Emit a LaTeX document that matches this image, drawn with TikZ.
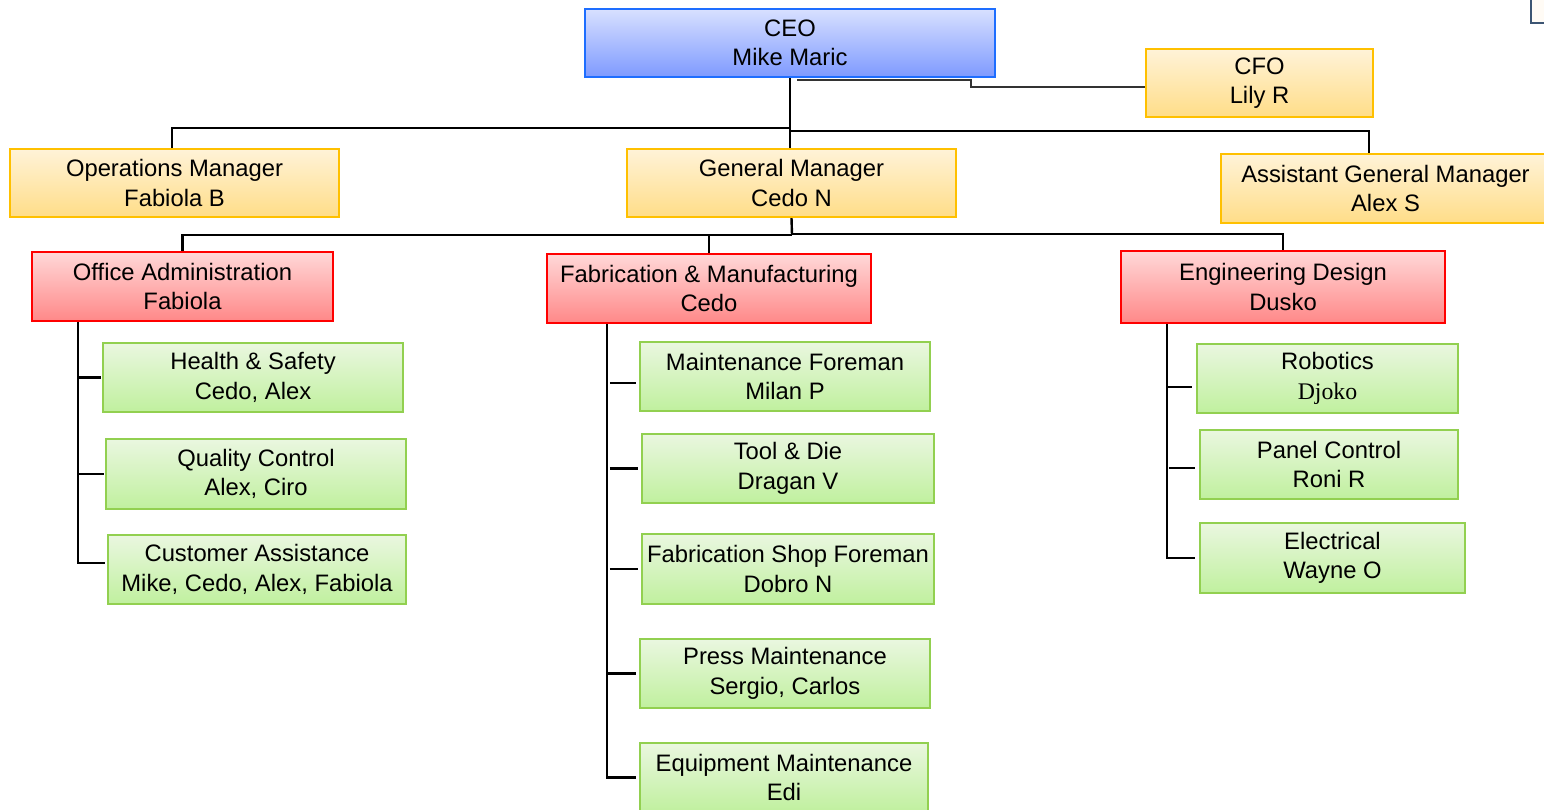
\documentclass[tikz,border=0pt]{standalone}
\usepackage{fontspec}
\setmainfont{Liberation Sans}
\newfontfamily\djfont{Liberation Serif}
\definecolor{ceoLine}{RGB}{30,110,255}
\definecolor{ceoTop}{RGB}{216,224,255}
\definecolor{ceoBot}{RGB}{126,154,255}
\definecolor{goldLine}{RGB}{255,192,0}
\definecolor{goldTop}{RGB}{255,243,216}
\definecolor{goldBot}{RGB}{255,221,136}
\definecolor{redLine}{RGB}{255,0,0}
\definecolor{redTop}{RGB}{255,216,216}
\definecolor{redBot}{RGB}{255,136,136}
\definecolor{grnLine}{RGB}{146,208,80}
\definecolor{grnTop}{RGB}{234,247,224}
\definecolor{grnBot}{RGB}{192,240,158}
\definecolor{cornerLine}{RGB}{60,85,115}
\definecolor{cornerFill}{RGB}{255,251,245}
\tikzset{
  box/.style={draw, line width=2.4pt, align=center, inner sep=1pt,
    font=\fontsize{23.8}{29.5}\selectfont, text=black},
  ceobox/.style={box, draw=ceoLine, top color=ceoTop, bottom color=ceoBot},
  goldbox/.style={box, draw=goldLine, top color=goldTop, bottom color=goldBot},
  redbox/.style={box, draw=redLine, top color=redTop, bottom color=redBot},
  grnbox/.style={box, draw=grnLine, top color=grnTop, bottom color=grnBot},
  conn/.style={line width=2.4pt, black},
  thinconn/.style={line width=1.4pt, black!80},
}
\begin{document}
\begin{tikzpicture}[x=1pt,y=-1pt]
\useasboundingbox (0,0) rectangle (1544,810);

% corner box (cut off at top right)
\draw[cornerLine, fill=cornerFill, line width=1.5pt] (1531,-10) rectangle (1570,23);

% level 1
\node[ceobox, minimum width=410pt, minimum height=68pt] (CEO) at (790,43) {CEO\\Mike Maric};
\node[goldbox, minimum width=227pt, minimum height=68pt] (CFO) at (1259.5,83) {CFO\\Lily R};

% level 2
\node[goldbox, minimum width=329pt, minimum height=68pt] (OPM) at (174.5,183) {Operations Manager\\Fabiola B};
\node[goldbox, minimum width=329pt, minimum height=68pt] (GM) at (791.5,183) {General Manager\\Cedo N};
\node[goldbox, minimum width=329pt, minimum height=69pt] (AGM) at (1385.5,188.5) {Assistant General Manager\\Alex S};

% level 3
\node[redbox, minimum width=301pt, minimum height=69pt] (OA) at (182.5,286.5) {Office Administration\\Fabiola};
\node[redbox, minimum width=324pt, minimum height=69pt] (FM) at (709,288.5) {Fabrication \& Manufacturing\\Cedo};
\node[redbox, minimum width=324pt, minimum height=72pt] (ED) at (1283,287) {Engineering Design\\Dusko};

% level 4 left
\node[grnbox, minimum width=300pt, minimum height=69pt] (HS) at (253,377.5) {Health \& Safety\\Cedo, Alex};
\node[grnbox, minimum width=300pt, minimum height=70pt] (QC) at (256,474) {Quality Control\\Alex, Ciro};
\node[grnbox, minimum width=298pt, minimum height=69pt] (CA) at (257,569.5) {Customer Assistance\\Mike, Cedo, Alex, Fabiola};

% level 4 middle
\node[grnbox, minimum width=290pt, minimum height=69pt] (MF) at (785,376.5) {Maintenance Foreman\\Milan P};
\node[grnbox, minimum width=292pt, minimum height=69pt] (TD) at (788,468.5) {Tool \& Die\\Dragan V};
\node[grnbox, minimum width=292pt, minimum height=70pt] (FSF) at (788,569) {Fabrication Shop Foreman\\Dobro N};
\node[grnbox, minimum width=290pt, minimum height=69pt] (PM) at (785,673.5) {Press Maintenance\\Sergio, Carlos};
\node[grnbox, minimum width=288pt, minimum height=69pt] (EM) at (784,777.5) {Equipment Maintenance\\Edi};

% level 4 right
\node[grnbox, minimum width=261pt, minimum height=69pt] (ROB) at (1327.5,378.5) {Robotics\\{\djfont Djoko}};
\node[grnbox, minimum width=258pt, minimum height=69pt] (PC) at (1329,464.5) {Panel Control\\Roni R};
\node[grnbox, minimum width=265pt, minimum height=70pt] (EL) at (1332.5,558) {Electrical\\Wayne O};

% CEO -> CFO
\coordinate (cfB) at (971,87);
\draw[thinconn] ([xshift=7pt,yshift=-2pt]CEO.south) -| (cfB) -- (cfB -| CFO.west);

% CEO -> level 2
\coordinate (busA) at (790,128);
\coordinate (busB) at (791,131);
\draw[conn] (CEO.south) -- (CEO.south |- GM.north);
\draw[conn] ([xshift=-2.5pt]OPM.north) |- (busA);
\draw[conn] (busB) -| ([xshift=-16.5pt]AGM.north);

% GM -> level 3
\coordinate (gbA) at (792,235);
\coordinate (gbB) at (792,234);
\draw[conn] (GM.south) -- (gbA);
\draw[conn] (OA.north) |- (gbA);
\draw[conn] (gbB) -| (ED.north);
\draw[conn] (FM.north) -- (FM.north |- gbA);

% Office Administration children
\coordinate (tA) at ([xshift=47pt]OA.south west);
\draw[conn] (tA) |- ([xshift=-2pt,yshift=6.5pt]CA.west);
\draw[conn] (tA |- HS.west) -- ([xshift=-1pt]HS.west);
\draw[conn] (tA |- QC.west) -- ([xshift=-1pt]QC.west);

% Fabrication children
\coordinate (tB) at ([xshift=61pt]FM.south west);
\draw[conn] (tB) |- ([xshift=-3pt]EM.west);
\draw[conn] ([xshift=3pt,yshift=-6.5pt]tB |- MF.west) -- ([xshift=-3pt,yshift=-6.5pt]MF.west);
\draw[conn] ([xshift=3pt]tB |- TD.west) -- ([xshift=-3pt]TD.west);
\draw[conn] ([xshift=3pt]tB |- FSF.west) -- ([xshift=-3pt]FSF.west);
\draw[conn] (tB |- PM.west) -- ([xshift=-3pt]PM.west);

% Engineering children
\coordinate (tC) at ([xshift=47pt]ED.south west);
\draw[conn] (tC) |- ([xshift=-4pt]EL.west);
\draw[conn] ([yshift=-8.5pt]tC |- ROB.west) -- ([xshift=-4pt,yshift=-8.5pt]ROB.west);
\draw[conn] ([xshift=2pt,yshift=-3.5pt]tC |- PC.west) -- ([xshift=-4pt,yshift=-3.5pt]PC.west);
\end{tikzpicture}
\end{document}
